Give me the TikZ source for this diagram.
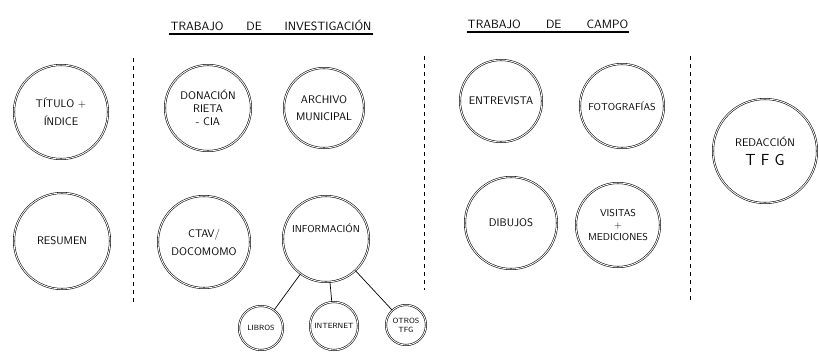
\documentclass[tikz,border=0pt]{standalone}
\usepackage{tikz}

\tikzset{
  bubble/.style={circle, draw, double, double distance=0.9pt, line width=0.55pt,
    inner sep=0pt, align=center, font=\sffamily\fontsize{11}{13}\selectfont},
  smallbubble/.style={bubble, font=\sffamily\fontsize{7.5}{9}\selectfont},
  heading/.style={inner sep=1pt, font=\sffamily\fontsize{12}{14}\selectfont},
  divider/.style={line width=0.8pt, dash pattern=on 4pt off 4pt}
}

\begin{document}
\begin{tikzpicture}[x=1pt,y=-1pt]
  \useasboundingbox (0,0) rectangle (819,351);

  % headings
  \node[heading] (invest) at (271,25) {TRABAJO\hspace{1.9em}DE\hspace{1.9em}INVESTIGACI\'ON};
  \draw[line width=0.6pt] ([yshift=-1.5pt]invest.south west) -- ([yshift=-1.5pt]invest.south east);
  \draw[line width=0.4pt] ([yshift=-3pt]invest.south west) -- ([yshift=-3pt]invest.south east);
  \node[heading] (campo) at (548,24) {TRABAJO\hspace{2.1em}DE\hspace{2.1em}CAMPO};
  \draw[line width=0.6pt] ([yshift=-1.5pt]campo.south west) -- ([yshift=-1.5pt]campo.south east);
  \draw[line width=0.4pt] ([yshift=-3pt]campo.south west) -- ([yshift=-3pt]campo.south east);

  % dividers
  \draw[divider] (133,58) -- (133,302);
  \draw[divider] (424,56) -- (424,290);
  \draw[divider] (690,56) -- (690,302);

  % left column
  \node[bubble, minimum size=94pt] (titulo) at (61,112) {T\'ITULO +\\[5pt] \'INDICE};
  \node[bubble, minimum size=96pt] (resumen) at (62,241) {RESUMEN};

  % trabajo de investigacion
  \node[bubble, minimum size=86pt] (donacion) at (208,108) {DONACI\'ON\\ RIETA\\ - CIA};
  \node[bubble, minimum size=80pt] (archivo) at (324,108) {ARCHIVO\\[4pt] MUNICIPAL};
  \node[bubble, minimum size=92pt] (ctav) at (204,242) {CTAV/\\[5pt] DOCOMOMO};
  \node[bubble, minimum size=86pt, font=\sffamily\fontsize{10}{12}\selectfont] (info) at (326,239) {INFORMACI\'ON\\[10pt]};
  \node[smallbubble, minimum size=44pt] (libros) at (261,328) {LIBROS};
  \node[smallbubble, minimum size=48pt] (internet) at (334,326) {INTERNET};
  \node[smallbubble, minimum size=40pt] (otros) at (406,325) {OTROS\\ TFG};
  \draw[line width=0.7pt] (info) -- (libros);
  \draw[line width=0.7pt] (info) -- (internet);
  \draw[line width=0.7pt] (info) -- (otros);

  % trabajo de campo
  \node[bubble, minimum size=82pt] (entrevista) at (501,101) {ENTREVISTA};
  \node[bubble, minimum size=84pt, font=\sffamily\fontsize{10}{12}\selectfont] (fotos) at (622,106) {FOTOGRAF\'IAS};
  \node[bubble, minimum size=92pt] (dibujos) at (511,223) {DIBUJOS};
  \node[bubble, minimum size=84pt, font=\sffamily\fontsize{10}{12}\selectfont] (visitas) at (618,225) {VISITAS\\ +\\ MEDICIONES};

  % redaccion
  \node[bubble, minimum size=104pt] (redaccion) at (765,151)
    {REDACCI\'ON\\[6pt] {\fontsize{16}{19}\selectfont T\,\,F\,\,G}};
\end{tikzpicture}
\end{document}
